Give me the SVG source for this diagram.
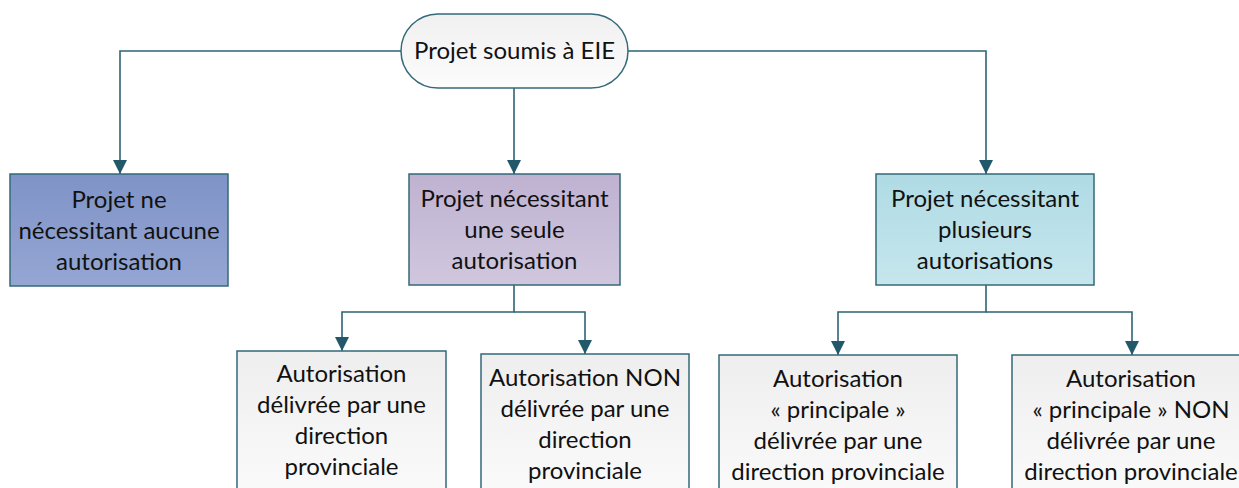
<svg xmlns="http://www.w3.org/2000/svg" width="1239" height="488" viewBox="0 0 1239 488">
<defs>
<linearGradient id="gPill" x1="0" y1="0" x2="0" y2="1"><stop offset="0" stop-color="#f0f0f0"/><stop offset="1" stop-color="#fcfcfc"/></linearGradient>
<linearGradient id="gBlue" x1="0" y1="0" x2="0" y2="1"><stop offset="0" stop-color="#7f93c7"/><stop offset="1" stop-color="#95a6d3"/></linearGradient>
<linearGradient id="gPurple" x1="0" y1="0" x2="0" y2="1"><stop offset="0" stop-color="#bfb2d1"/><stop offset="1" stop-color="#d0c7de"/></linearGradient>
<linearGradient id="gCyan" x1="0" y1="0" x2="0" y2="1"><stop offset="0" stop-color="#afdbe5"/><stop offset="1" stop-color="#c6e6ed"/></linearGradient>
<linearGradient id="gGrey" x1="0" y1="0" x2="0" y2="1"><stop offset="0" stop-color="#eeeeee"/><stop offset="1" stop-color="#fbfbfb"/></linearGradient>
<marker id="arr" markerUnits="userSpaceOnUse" markerWidth="16" markerHeight="16" viewBox="0 0 16 16" refX="15" refY="8" orient="auto">
<path d="M1,1 L15,8 L1,15 Z" fill="#22596a"/>
</marker>
</defs>
<style>
.box{stroke:#34697a;stroke-width:1.5}
.con{fill:none;stroke:#2e6475;stroke-width:1.6}
.t{font-family:Lato,"Liberation Sans",sans-serif;font-size:24px;fill:#111;text-anchor:middle}
</style>
<g id="connectors">
<path class="con" d="M401,51 H120 V174" marker-end="url(#arr)"/>
<path class="con" d="M628,51 H986 V174" marker-end="url(#arr)"/>
<path class="con" d="M514,88 V174" marker-end="url(#arr)"/>
<path class="con" d="M514,285 V312 H342 V351" marker-end="url(#arr)"/>
<path class="con" d="M514,312 H585 V354" marker-end="url(#arr)"/>
<path class="con" d="M986,285 V312 H838 V355" marker-end="url(#arr)"/>
<path class="con" d="M986,312 H1132 V355" marker-end="url(#arr)"/>
</g>
<g id="n0">
<rect class="box" x="401" y="14" width="227" height="74" rx="37" ry="37" fill="url(#gPill)"/>
<text class="t" x="514.5" y="59">Projet soumis à EIE</text>
</g>
<g id="n1">
<rect class="box" x="10" y="174" width="218" height="112" fill="url(#gBlue)"/>
<text class="t" x="119" y="208">Projet ne</text>
<text class="t" x="119" y="239">nécessitant aucune</text>
<text class="t" x="119" y="270">autorisation</text>
</g>
<g id="n2">
<rect class="box" x="409" y="174" width="211" height="111" fill="url(#gPurple)"/>
<text class="t" x="514.5" y="207">Projet nécessitant</text>
<text class="t" x="514.5" y="238">une seule</text>
<text class="t" x="514.5" y="269">autorisation</text>
</g>
<g id="n3">
<rect class="box" x="876" y="174" width="218" height="111" fill="url(#gCyan)"/>
<text class="t" x="985" y="207">Projet nécessitant</text>
<text class="t" x="985" y="238">plusieurs</text>
<text class="t" x="985" y="269">autorisations</text>
</g>
<g id="n4">
<rect class="box" x="237" y="351" width="209" height="150" fill="url(#gGrey)"/>
<text class="t" x="341.5" y="382">Autorisation</text>
<text class="t" x="341.5" y="413">délivrée par une</text>
<text class="t" x="341.5" y="444">direction</text>
<text class="t" x="341.5" y="475">provinciale</text>
</g>
<g id="n5">
<rect class="box" x="481" y="354" width="208" height="150" fill="url(#gGrey)"/>
<text class="t" x="585" y="386">Autorisation NON</text>
<text class="t" x="585" y="417">délivrée par une</text>
<text class="t" x="585" y="448">direction</text>
<text class="t" x="585" y="479">provinciale</text>
</g>
<g id="n6">
<rect class="box" x="719" y="355" width="238" height="150" fill="url(#gGrey)"/>
<text class="t" x="838" y="387">Autorisation</text>
<text class="t" x="838" y="418">« principale »</text>
<text class="t" x="838" y="449">délivrée par une</text>
<text class="t" x="838" y="480">direction provinciale</text>
</g>
<g id="n7">
<rect class="box" x="1012" y="355" width="238" height="150" fill="url(#gGrey)"/>
<text class="t" x="1131" y="387">Autorisation</text>
<text class="t" x="1131" y="418">« principale » NON</text>
<text class="t" x="1131" y="449">délivrée par une</text>
<text class="t" x="1131" y="480">direction provinciale</text>
</g>
</svg>
